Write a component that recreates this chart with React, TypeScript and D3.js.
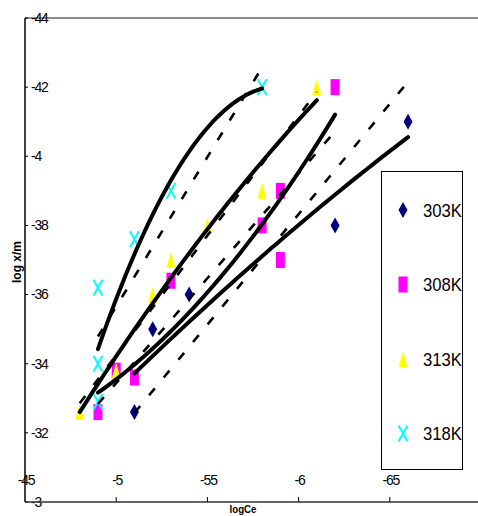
import React from "react";
import * as d3 from "d3";

// ---- data ----
const seriesNames = ["303K", "308K", "313K", "318K"];
const x303 = [-0.51, -0.52, -0.54, -0.62, -0.66];
const y303 = [-0.326, -0.35, -0.36, -0.38, -0.41];
const x308 = [-0.49, -0.5, -0.51, -0.53, -0.58, -0.59, -0.59, -0.62];
const y308 = [-0.326, -0.338, -0.336, -0.364, -0.38, -0.39, -0.37, -0.42];
const x313 = [-0.48, -0.5, -0.52, -0.53, -0.55, -0.58, -0.61];
const y313 = [-0.326, -0.338, -0.36, -0.37, -0.38, -0.39, -0.42];
const x318 = [-0.49, -0.49, -0.49, -0.51, -0.53, -0.58];
const y318 = [-0.329, -0.34, -0.362, -0.376, -0.39, -0.42];
// linear trendline through origin for the first series, ordinary for the rest
const zeroIntercept = [true, false, false, false];

const xTickValues = [-0.45, -0.5, -0.55, -0.6, -0.65];
const xTickLabels = ["-45", "-5", "-55", "-6", "-65"];
const yTickValues = [-0.44, -0.42, -0.4, -0.38, -0.36, -0.34, -0.32, -0.3];
const yTickLabels = ["-44", "-42", "-4", "-38", "-36", "-34", "-32", "-3"];
const xTitle = "logCe";
const yTitle = "log x/m";

const W = 478;
const H = 516;
const FONT = "Arial, 'Liberation Sans', sans-serif";

const xScale = d3.scaleLinear().domain([-0.45, -0.7]).range([25, 481]);
const yScale = d3.scaleLinear().domain([-0.44, -0.3]).range([18, 502]);

type P = [number, number];

function linFit(pts: P[], zero: boolean) {
  if (zero) {
    const sxy = d3.sum(pts, (p) => p[0] * p[1]);
    const sxx = d3.sum(pts, (p) => p[0] * p[0]);
    const m = sxy / sxx;
    return (x: number) => m * x;
  }
  const mx = d3.mean(pts, (p) => p[0])!;
  const my = d3.mean(pts, (p) => p[1])!;
  const sxy = d3.sum(pts, (p) => (p[0] - mx) * (p[1] - my));
  const sxx = d3.sum(pts, (p) => (p[0] - mx) ** 2);
  const m = sxy / sxx;
  return (x: number) => my + m * (x - mx);
}

function polyFit(pts: P[]) {
  const mx = d3.mean(pts, (p) => p[0])!;
  const n = pts.length;
  let s1 = 0, s2 = 0, s3 = 0, s4 = 0, t0 = 0, t1 = 0, t2 = 0;
  pts.forEach(([x, y]) => {
    const u = x - mx;
    s1 += u; s2 += u * u; s3 += u ** 3; s4 += u ** 4;
    t0 += y; t1 += u * y; t2 += u * u * y;
  });
  const A = [
    [n, s1, s2],
    [s1, s2, s3],
    [s2, s3, s4],
  ];
  const B = [t0, t1, t2];
  const det = (M: number[][]) =>
    M[0][0] * (M[1][1] * M[2][2] - M[1][2] * M[2][1]) -
    M[0][1] * (M[1][0] * M[2][2] - M[1][2] * M[2][0]) +
    M[0][2] * (M[1][0] * M[2][1] - M[1][1] * M[2][0]);
  const D = det(A);
  const col = (k: number) => A.map((r, i) => r.map((v, j) => (j === k ? B[i] : v)));
  const a = det(col(0)) / D;
  const b = det(col(1)) / D;
  const c = det(col(2)) / D;
  return (x: number) => {
    const u = x - mx;
    return a + b * u + c * u * u;
  };
}

const allX = [x303, x308, x313, x318];
const allY = [y303, y308, y313, y318];
const colors = ["#000080", "#FF00FF", "#FFFF00", "#00FFFF"];

function Marker({ kind, cx, cy }: { kind: number; cx: number; cy: number }) {
  const hw = 4.5;
  const hh = 8;
  if (kind === 0)
    return (
      <path
        d={`M${cx},${cy - hh}L${cx + hw},${cy}L${cx},${cy + hh}L${cx - hw},${cy}Z`}
        fill={colors[0]}
      />
    );
  if (kind === 1)
    return <rect x={cx - hw} y={cy - hh} width={hw * 2} height={hh * 2} fill={colors[1]} />;
  if (kind === 2)
    return (
      <path
        d={`M${cx},${cy - hh}L${cx + hw},${cy + hh}L${cx - hw},${cy + hh}Z`}
        fill={colors[2]}
      />
    );
  return (
    <path
      d={`M${cx - hw},${cy - hh}L${cx + hw},${cy + hh}M${cx + hw},${cy - hh}L${cx - hw},${cy + hh}`}
      stroke={colors[3]}
      strokeWidth={2}
      fill="none"
    />
  );
}

export default function App() {
  const line = d3
    .line<P>()
    .x((d) => xScale(d[0]))
    .y((d) => yScale(d[1]));

  const trend = allX.map((xs, i) => {
    const pts: P[] = xs.map((x, j) => [x, allY[i][j]]);
    const lo = d3.min(xs)!;
    const hi = d3.max(xs)!;
    const lf = linFit(pts, zeroIntercept[i]);
    const pf = polyFit(pts);
    const samples = d3.range(0, 41).map((k) => hi + ((lo - hi) * k) / 40);
    return {
      lin: line([
        [hi, lf(hi)],
        [lo, lf(lo)],
      ])!,
      poly: line(samples.map((x) => [x, pf(x)] as P))!,
    };
  });

  return (
    <svg
      width={W}
      height={H}
      style={{ position: "absolute", left: 0, top: 0, background: "#fff" }}
      fontFamily={FONT}
    >
      <rect width={W} height={H} fill="#fff" />
      {/* top border line */}
      <line x1={25} x2={W} y1={18} y2={18} stroke="#8c8c8c" strokeWidth={2} />
      {/* y axis */}
      <line x1={25} x2={25} y1={18} y2={502} stroke="#000" strokeWidth={1.5} />
      {yTickValues.map((v, i) => (
        <g key={"yt" + i}>
          <line x1={25} x2={28} y1={yScale(v)} y2={yScale(v)} stroke="#000" strokeWidth={1} />
          <text
            x={31}
            y={yScale(v)}
            dy="0.35em"
            fontSize={14}
            letterSpacing={-1.2}
            fill="#000"
          >
            {yTickLabels[i]}
          </text>
        </g>
      ))}
      {/* x axis */}
      <line x1={25} x2={W} y1={502} y2={502} stroke="#333" strokeWidth={1.5} />
      {xTickValues.map((v, i) => (
        <g key={"xt" + i}>
          {i > 0 && (
            <line x1={xScale(v)} x2={xScale(v)} y1={497} y2={502} stroke="#000" strokeWidth={1} />
          )}
          <text
            x={xScale(v) + 1}
            y={480}
            dy="0.35em"
            fontSize={14}
            letterSpacing={-1.2}
            textAnchor="middle"
            fill="#000"
          >
            {xTickLabels[i]}
          </text>
        </g>
      ))}
      {/* axis titles */}
      <text
        x={243}
        y={509}
        dy="0.35em"
        fontSize={11}
        fontWeight="bold"
        textAnchor="middle"
        textLength={27}
        lengthAdjust="spacingAndGlyphs"
      >
        {xTitle}
      </text>
      <text
        transform={`translate(17,262) rotate(-90)`}
        dy="0.35em"
        fontSize={12}
        fontWeight="bold"
        textAnchor="middle"
      >
        {yTitle}
      </text>
      {/* markers */}
      {allX.map((xs, i) =>
        xs.map((x, j) => (
          <Marker key={`m${i}-${j}`} kind={i} cx={xScale(x)} cy={yScale(allY[i][j])} />
        ))
      )}
      {/* trendlines */}
      {trend.map((t, i) => (
        <g key={"tr" + i}>
          <path d={t.lin} fill="none" stroke="#000" strokeWidth={2.6} strokeDasharray="9 14" />
          <path d={t.poly} fill="none" stroke="#000" strokeWidth={4} strokeLinecap="round" />
        </g>
      ))}
      {/* legend */}
      <rect x={381.5} y={171.5} width={81} height={298} fill="#fff" stroke="#000" strokeWidth={1} />
      {seriesNames.map((name, i) => {
        const cy = 210 + i * 74.5;
        return (
          <g key={"lg" + i}>
            <Marker kind={i} cx={403} cy={cy} />
            <text
              x={423}
              y={cy}
              dy="0.35em"
              fontSize={19}
              textLength={39}
              lengthAdjust="spacingAndGlyphs"
              fill="#000"
            >
              {name}
            </text>
          </g>
        );
      })}
    </svg>
  );
}
